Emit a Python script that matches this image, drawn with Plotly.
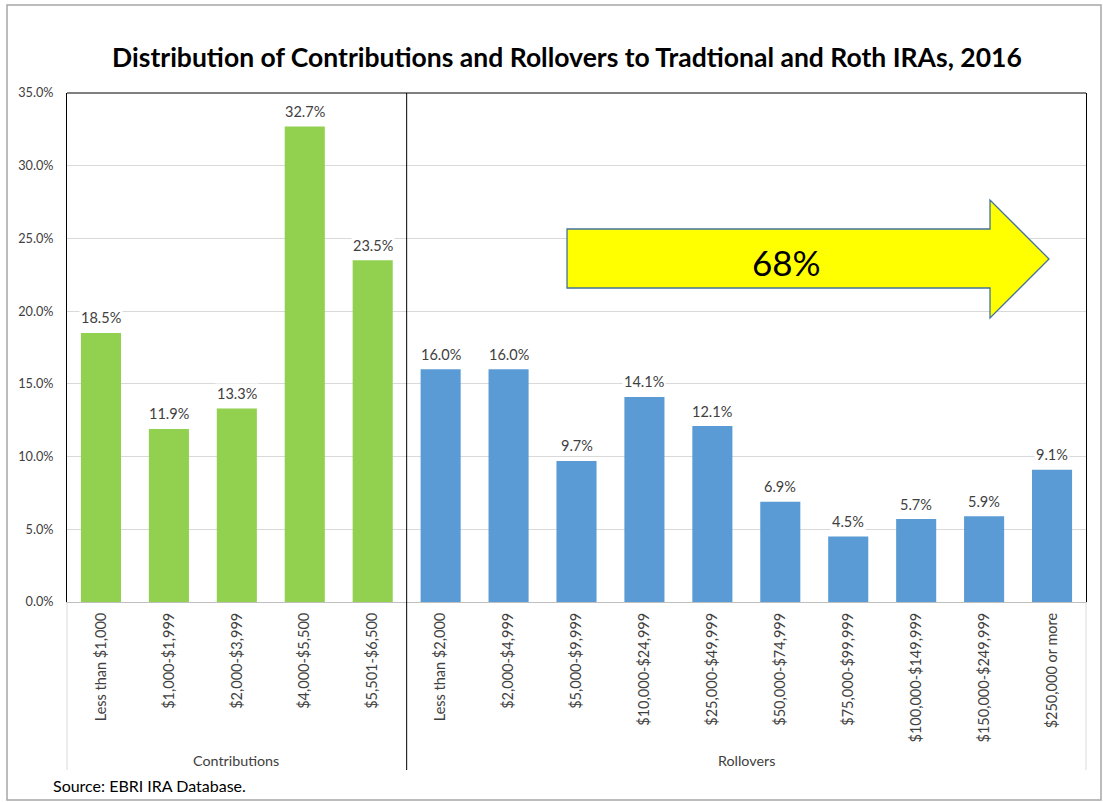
import plotly.graph_objects as go

contrib_cats = ["Less than $1,000", "$1,000-$1,999", "$2,000-$3,999", "$4,000-$5,500", "$5,501-$6,500"]
contrib_vals = [18.5, 11.9, 13.3, 32.7, 23.5]
roll_cats = ["Less than $2,000", "$2,000-$4,999", "$5,000-$9,999", "$10,000-$24,999", "$25,000-$49,999",
             "$50,000-$74,999", "$75,000-$99,999", "$100,000-$149,999", "$150,000-$249,999", "$250,000 or more"]
roll_vals = [16.0, 16.0, 9.7, 14.1, 12.1, 6.9, 4.5, 5.7, 5.9, 9.1]
y_ticks = [0, 5, 10, 15, 20, 25, 30, 35]
y_labels = ["0.0%", "5.0%", "10.0%", "15.0%", "20.0%", "25.0%", "30.0%", "35.0%"]

FONT = "Lato"
W, H = 1103, 802
L, R, T, B = 67, 1086, 93, 602

def px(x):
    return (x - L) / (R - L)

def py(y):
    return (B - y) / (B - T)

fig = go.Figure()
fig.add_trace(go.Bar(x=contrib_cats, y=contrib_vals, marker_color="#92D050", marker_line_width=0,
                     name="Contributions"))
fig.add_trace(go.Bar(x=roll_cats, y=roll_vals, marker_color="#5B9BD5", marker_line_width=0,
                     name="Rollovers"))

shapes = []
# plot top border
shapes.append(dict(type="line", xref="paper", yref="paper", x0=0, x1=1, y0=1, y1=1, line=dict(color="black", width=1)))
# divider
shapes.append(dict(type="line", xref="paper", yref="paper", x0=5/15, x1=5/15, y0=1, y1=py(770), line=dict(color="black", width=1)))
# gray group lines
for xx in [0, 1]:
    shapes.append(dict(type="line", xref="paper", yref="paper", x0=xx, x1=xx, y0=0, y1=py(770), line=dict(color="#D9D9D9", width=1)))
# arrow
pts = [(567, 229), (990, 229), (990, 200), (1049, 259), (990, 318), (990, 288), (567, 288)]
path = "M " + " L ".join(f"{px(a):.4f},{py(b):.4f}" for a, b in pts) + " Z"
shapes.append(dict(type="path", xref="paper", yref="paper", path=path, fillcolor="#FFFF00",
                   line=dict(color="#41719C", width=1.3)))
# outer border
shapes.append(dict(type="rect", xref="paper", yref="paper", x0=px(7), x1=px(1101), y0=py(5), y1=py(800),
                   line=dict(color="#A6A6A6", width=1.5)))

annotations = []
for cats, vals in [(contrib_cats, contrib_vals), (roll_cats, roll_vals)]:
    for c, v in zip(cats, vals):
        annotations.append(dict(x=c, y=v, xref="x", yref="y", text=f"{v:.1f}%", showarrow=False,
                                xanchor="center", yanchor="middle", yshift=15, bgcolor="white",
                                borderpad=1, font=dict(size=14.5, color="#404040", family=FONT)))

annotations += [
    dict(text="68%", xref="paper", yref="paper", x=px(786), y=py(262), xanchor="center", yanchor="middle",
         showarrow=False, font=dict(size=35, color="black", family=FONT)),
    dict(text="Contributions", xref="paper", yref="paper", x=px(236), y=py(760), xanchor="center", yanchor="middle",
         showarrow=False, font=dict(size=14.3, color="#404040", family=FONT)),
    dict(text="Rollovers", xref="paper", yref="paper", x=px(746), y=py(760), xanchor="center", yanchor="middle",
         showarrow=False, font=dict(size=14.3, color="#404040", family=FONT)),
    dict(text="Source: EBRI IRA Database.", xref="paper", yref="paper", x=px(51), y=py(785), xanchor="left",
         yanchor="middle", showarrow=False, font=dict(size=16, color="black", family=FONT)),
]

fig.update_layout(
    width=W, height=H,
    margin=dict(l=L, r=W - R, t=T, b=H - B),
    paper_bgcolor="white", plot_bgcolor="white",
    barmode="overlay", bargap=0.41, showlegend=False,
    title=dict(text="<b>Distribution of Contributions and Rollovers to Tradtional and Roth IRAs, 2016</b>",
               x=0.514, xanchor="center", y=1 - 58 / H, yanchor="middle",
               font=dict(size=26.5, color="black", family=FONT)),
    xaxis=dict(categoryorder="array", categoryarray=contrib_cats + roll_cats, tickangle=-90,
               tickfont=dict(size=14.5, color="#404040", family=FONT), showline=True, linecolor="#BFBFBF",
               linewidth=1, ticks="", showgrid=False, ticklabelstandoff=4),
    yaxis=dict(range=[0, 35], tickvals=y_ticks, ticktext=y_labels, showline=True, mirror=True,
               linecolor="black", linewidth=1, showgrid=True, gridcolor="#D9D9D9", zeroline=False,
               tickfont=dict(size=12.7, color="#404040", family=FONT), ticks="", ticklen=0,
               ticklabelstandoff=10),
    shapes=shapes, annotations=annotations,
    font=dict(family=FONT),
)

fig.write_html("out.html", config={"displayModeBar": False},
               post_script="document.body.style.margin='0';")
